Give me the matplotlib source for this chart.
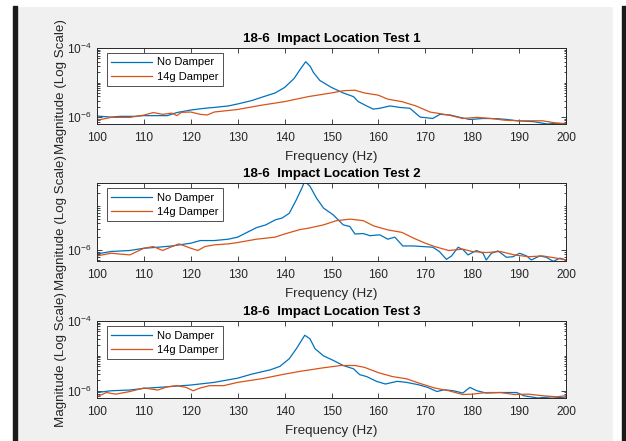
import numpy as np
import matplotlib
matplotlib.use('Agg')
import matplotlib.pyplot as plt
from matplotlib.patches import Rectangle
from matplotlib.ticker import LogLocator, FixedLocator, NullFormatter

plt.rcParams['font.family'] = ['Liberation Sans', 'DejaVu Sans']

# Data (magnitudo dalam satuan 1e-6)
titles = ['18-6  Impact Location Test 1', '18-6  Impact Location Test 2',
          '18-6  Impact Location Test 3']
labels = ['No Damper', '14g Damper']

# Test 1
f1_nd = [100, 103, 105, 108, 110, 113, 115, 117, 120, 123, 125, 128, 130, 133, 135, 138,
         140, 142, 143.5, 144.5, 145.5, 146.1, 147.5, 150, 152.5, 154.7, 155.7, 157.5,
         158.9, 160.3, 162.5, 164.6, 166.7, 168.9, 171.6, 173.1, 175.3, 177.4, 179.5,
         182.3, 185.3, 187.5, 189.6, 193, 196, 198, 200]
m1_nd = [1.07, 1.0, 1.05, 1.05, 1.1, 1.1, 1.1, 1.35, 1.6, 1.8, 1.9, 2.1, 2.4, 3.0, 3.7, 5.0,
         7.2, 13, 26, 40, 29, 20, 11.5, 7.2, 5.0, 3.9, 2.8, 2.1,
         1.7, 1.8, 2.1, 1.9, 1.8, 1.0, 0.91, 1.2, 1.15, 0.98, 0.85,
         0.91, 0.9, 0.85, 0.78, 0.74, 0.63, 0.66, 0.65]
f1_d = [100, 103, 107, 110, 112, 114, 116, 117, 118, 120, 122, 123.5, 125, 130, 135, 140,
        145, 150, 152.5, 155, 157, 160, 162, 165, 168, 171, 175, 178, 181, 184, 187, 190,
        195, 198, 200]
m1_d = [0.81, 0.98, 0.98, 1.14, 1.35, 1.2, 1.3, 1.1, 1.37, 1.4, 1.2, 1.15, 1.4, 1.66, 2.2, 2.8,
        3.9, 5.0, 5.8, 6.0, 5.0, 4.3, 3.3, 2.8, 2.1, 1.4, 1.14, 0.91, 0.98, 0.91, 0.81, 0.78,
        0.78, 0.67, 0.63]

# Test 2
f2_nd = [100, 103, 107, 110, 113, 116, 120, 122, 125, 128, 130, 132, 134, 136, 138, 139.5,
         141, 142.5, 143.5, 144.3, 145.4, 146.8, 148.3, 150.4, 152.5, 153.9, 155, 156.8,
         158.2, 160.3, 162, 163.5, 165.2, 167.4, 169.5, 171.6, 173, 174.5, 175.6, 177,
         178.1, 179.1, 180.9, 182.3, 183, 184.1, 185.5, 187.3, 188.7, 190.1, 191.6, 192.6,
         194.4, 195.8, 197.3, 198.7, 200]
m2_nd = [0.81, 0.92, 0.97, 1.09, 1.15, 1.23, 1.42, 1.63, 1.63, 1.75, 1.95, 2.5, 3.2, 3.7, 4.8, 5.3,
         6.8, 13.7, 23, 36, 28, 15, 8.9, 6.2, 3.7, 3.4, 2.3, 2.35,
         2.1, 2.2, 1.75, 1.95, 1.23, 1.23, 1.19, 1.15, 0.92, 0.61, 0.73, 1.15,
         1.0, 0.77, 0.97, 0.84, 0.59, 0.84, 0.95, 0.68, 0.70, 0.84, 0.73, 0.59,
         0.73, 0.68, 0.55, 0.65, 0.59]
f2_d = [100, 103, 107, 110, 112, 114, 116, 117.5, 120, 121.5, 123, 125, 128, 130, 134, 138,
        140, 143.3, 145, 148.3, 151, 154, 156.8, 159, 162, 165, 167.5, 170, 172, 175, 178,
        180, 183, 186, 189, 192, 195, 198, 200]
m2_d = [0.73, 0.84, 0.77, 1.09, 1.19, 0.97, 1.19, 1.37, 1.09, 0.97, 1.19, 1.3, 1.37, 1.47, 1.75, 1.95,
        2.3, 2.9, 3.1, 3.7, 4.6, 5.0, 4.6, 3.5, 2.85, 2.5, 1.85, 1.42, 1.19, 0.97, 1.04,
        0.92, 0.87, 0.92, 0.77, 0.70, 0.73, 0.65, 0.59]

# Test 3
f3_nd = [100, 103, 107, 110, 115, 120, 125, 130, 133, 137, 139, 141, 142.5, 144.3, 145.4,
         146.5, 148.3, 150.4, 152.5, 154.7, 156, 157.5, 159.6, 161.5, 164, 166, 168.5,
         170.5, 172.5, 174, 176, 178, 179.5, 181, 183, 186, 189.5, 191, 194, 197, 200]
m3_nd = [0.89, 1.0, 1.05, 1.17, 1.3, 1.46, 1.74, 2.3, 3.0, 4.0, 5.0, 8.3, 16, 39, 31,
         16, 10, 7.4, 5.3, 4.25, 2.9, 2.55, 1.86, 1.56, 1.86, 1.74, 1.49,
         1.25, 0.95, 1.07, 1.0, 0.86, 1.25, 1.0, 0.86, 0.89, 0.89, 0.72, 0.62, 0.67, 0.62]
f3_d = [100, 102, 104, 107, 110, 113, 115, 117, 119, 120.5, 122, 124, 127, 130, 135, 140,
        143.3, 148, 152, 155, 157, 160, 163, 166, 169, 172, 175, 178, 180, 183, 186, 189,
        192, 195, 198, 200]
m3_d = [0.67, 0.89, 0.80, 0.95, 1.2, 1.05, 1.3, 1.4, 1.25, 1.0, 1.2, 1.4, 1.4, 1.74, 2.2, 3.0,
        3.6, 4.5, 5.3, 5.3, 4.7, 3.3, 2.55, 2.2, 1.6, 1.2, 1.0, 0.78, 0.80, 0.89, 0.89, 0.78,
        0.80, 0.72, 0.67, 0.72]

series = [(f1_nd, m1_nd, f1_d, m1_d), (f2_nd, m2_nd, f2_d, m2_d), (f3_nd, m3_nd, f3_d, m3_d)]
ylims = [(6.3e-7, 1e-4), (5.6e-7, 3.3e-5), (6.2e-7, 1e-4)]
yticks = [[1e-6, 1e-4], [1e-6], [1e-6, 1e-4]]

# posisi axes (piksel dari atas: 48-124, 183-261, 321-398)
W, H = 626, 441
boxes = [(48, 124), (183, 261), (321, 398)]

fig = plt.figure(figsize=(W / 100, H / 100), dpi=100, facecolor='#f0f0f0')

# tepi screenshot (strip putih dan batang hitam)
fig.patches.append(Rectangle((0, 1 - 6 / H), 1, 6 / H, transform=fig.transFigure,
                             color='white', zorder=0))
fig.patches.append(Rectangle((0, 0), 13 / W, 1, transform=fig.transFigure,
                             color='white', zorder=0))
fig.patches.append(Rectangle((13 / W, 0), 4 / W, 1 - 6 / H, transform=fig.transFigure,
                             color='#1a1a1a', zorder=0))
fig.patches.append(Rectangle((613 / W, 0), 9 / W, 1, transform=fig.transFigure,
                             color='white', zorder=0))
fig.patches.append(Rectangle((622 / W, 0), 4 / W, 1 - 6 / H, transform=fig.transFigure,
                             color='#1a1a1a', zorder=0))

axc = '#262626'
for i, (top, bot) in enumerate(boxes):
    ax = fig.add_axes([97 / W, 1 - bot / H, (566 - 97) / W, (bot - top) / H])
    fn, mn, fd, md = series[i]
    ax.plot(fn, np.array(mn) * 1e-6, color='#0072BD', lw=0.9, label=labels[0])
    ax.plot(fd, np.array(md) * 1e-6, color='#D95319', lw=0.9, label=labels[1])
    ax.set_yscale('log')
    ax.set_xlim(100, 200)
    ax.set_ylim(*ylims[i])
    ax.set_xticks(np.arange(100, 201, 10))
    ax.yaxis.set_major_locator(FixedLocator(yticks[i]))
    ax.yaxis.set_minor_locator(LogLocator(base=10, subs=np.arange(1, 10)))
    ax.yaxis.set_minor_formatter(NullFormatter())
    ax.tick_params(which='both', direction='in', top=True, right=True,
                   colors=axc, labelsize=8.6, width=0.6)
    ax.tick_params(which='major', length=3.5)
    ax.tick_params(axis='x', which='major', pad=6)
    ax.tick_params(axis='y', which='major', pad=4)
    ax.tick_params(which='minor', length=1.8)
    for s in ax.spines.values():
        s.set_color(axc)
        s.set_linewidth(0.7)
    ax.set_title(titles[i], fontsize=9.6, fontweight='bold', pad=4)
    ax.set_xlabel('Frequency (Hz)', fontsize=9.6, color=axc, labelpad=5)
    ax.set_ylabel('Magnitude (Log Scale)', fontsize=9.6, color=axc, labelpad=0)
    leg = ax.legend(loc='upper left', bbox_to_anchor=(0.021, 0.934), borderaxespad=0,
                    fontsize=8, handlelength=3.7, handletextpad=0.4, labelspacing=0.4,
                    borderpad=0.4, fancybox=False, framealpha=1, edgecolor='#505050')
    leg.get_frame().set_linewidth(0.7)

plt.savefig('out.png', dpi=100, facecolor=fig.get_facecolor())
plt.close()
